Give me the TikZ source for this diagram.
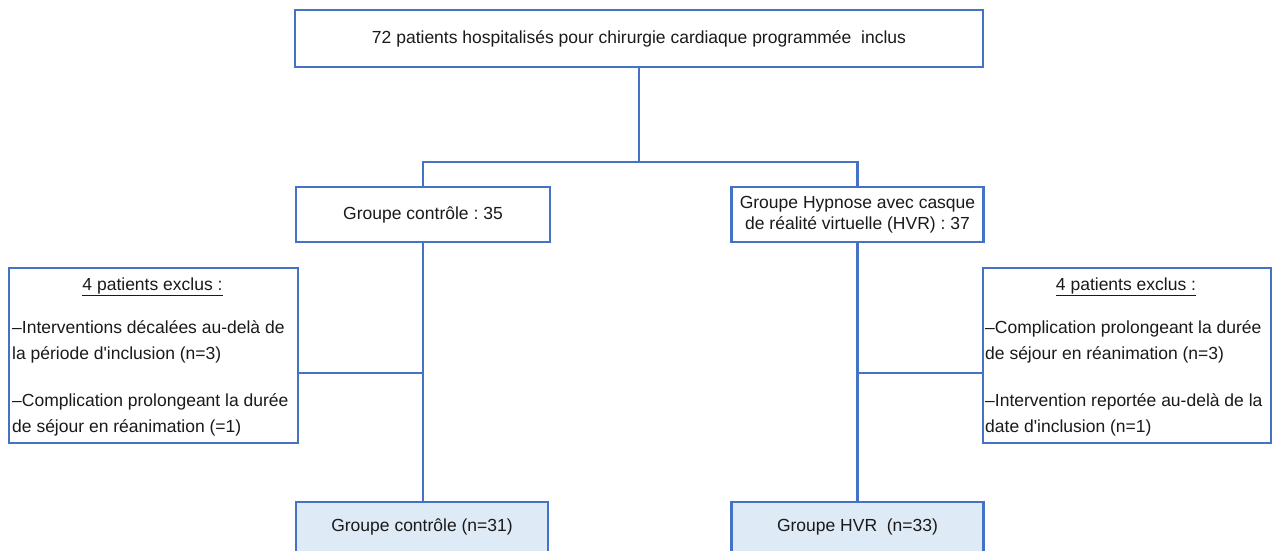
\documentclass[tikz,border=0pt]{standalone}
\usepackage{fontspec}
\setmainfont{Liberation Sans}
\frenchspacing
\definecolor{bord}{HTML}{4472C4}
\definecolor{fillb}{HTML}{DEEAF6}
\definecolor{txt}{HTML}{1A1A1A}
\newcommand{\apos}{\textquotesingle}
\tikzset{
  box/.style={draw=bord, line width=2.2pt, rectangle, inner sep=0pt, text=txt,
    font=\fontsize{17.5}{20.5}\selectfont, align=center},
  conn/.style={draw=bord, line width=2.2pt},
  plain/.style={inner sep=0pt, text=txt, font=\fontsize{17.5}{20.5}\selectfont},
  body/.style={inner sep=0pt, text=txt, font=\fontsize{17.5}{26.5}\selectfont,
    align=left, anchor=north west},
}
\begin{document}
\begin{tikzpicture}[x=1pt,y=-1pt]
\useasboundingbox (0,0) rectangle (1275,550);
\clip (0,0) rectangle (1275,550);
\fill[white] (0,0) rectangle (1275,550);

\node[box, minimum width=688pt, minimum height=57pt] (top) at (639,38.5)
  {72 patients hospitalisés pour chirurgie cardiaque programmée~ inclus};
\node[box, minimum width=254pt, minimum height=55pt] (gL) at (423,214.5)
  {Groupe contrôle : 35};
\node[box, minimum width=252pt, minimum height=55pt] (gR) at (857.5,214.5)
  {Groupe Hypnose avec casque\\de réalité virtuelle (HVR) : 37};

\node[box, minimum width=289pt, minimum height=175pt, anchor=north west] (exL) at (8,267) {};
\node[box, minimum width=288pt, minimum height=175pt, anchor=north west] (exR) at (982,267) {};
\node[plain] (exLt) at (152.5,287) {\underline{4 patients exclus :}};
\node[plain] (exRt) at (1126,287) {\underline{4 patients exclus :}};
\node[body] (exLb) at (12,320)
  {–Interventions décalées au-delà de\\la période d\apos inclusion (n=3)\\[20pt]%
   –Complication prolongeant la durée\\de séjour en réanimation (=1)};
\node[body] (exRb) at (985,320)
  {–Complication prolongeant la durée\\de séjour en réanimation (n=3)\\[20pt]%
   –Intervention reportée au-delà de la\\date d\apos inclusion (n=1)};

\node[box, fill=fillb, minimum width=252pt, minimum height=50pt] (bL) at (422,527)
  {Groupe contrôle (n=31)};
\node[box, fill=fillb, minimum width=252pt, minimum height=50pt] (bR) at (857.5,527)
  {Groupe HVR~ (n=33)};

\coordinate (hy) at (639,162);
\coordinate (jL) at (423,373);
\coordinate (jR) at (857.5,373);
\draw[conn] (top.south) -- (hy);
\draw[conn] (gL.north) |- (hy) -| (gR.north);
\draw[conn] (gL.south) -- (gL.south |- bL.north);
\draw[conn] (gR.south) -- (bR.north);
\draw[conn] (exL.east |- jL) -- (jL);
\draw[conn] (jR) -- (exR.west |- jR);
\end{tikzpicture}
\end{document}
